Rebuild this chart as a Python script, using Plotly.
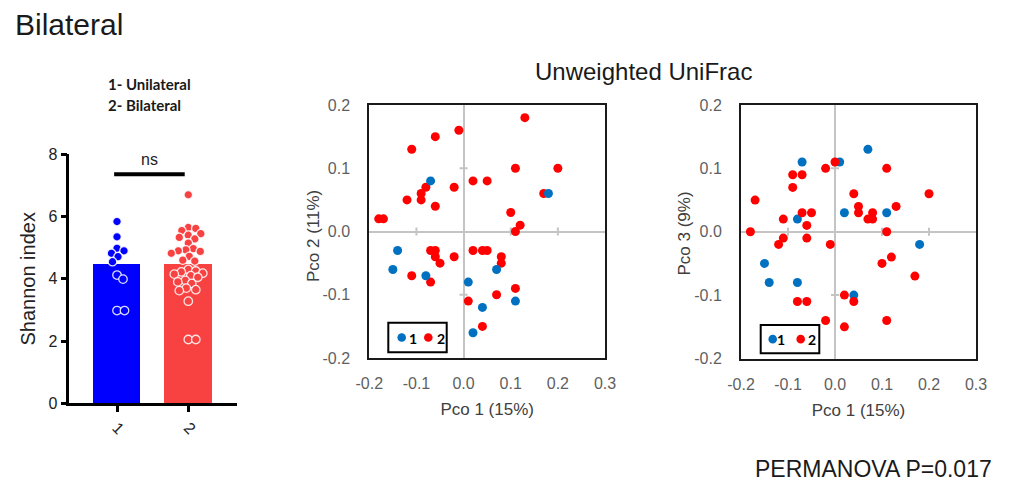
import numpy as np
import plotly.graph_objects as go

W, H = 1009, 484

# ---------------- data ----------------
groups = ["1", "2"]
group_names = ["1- Unilateral", "2- Bilateral"]
uni_shannon = [5.84, 5.35, 4.98, 4.90, 4.82, 4.71, 4.55, 4.12, 3.99, 2.98, 2.98]
bi_shannon = [6.70, 5.65, 5.62, 5.55, 5.45, 5.40, 5.33, 5.28, 5.15, 4.97, 4.93,
              4.90, 4.88, 4.82, 4.72, 4.60, 4.57,
              4.30, 4.25, 4.22, 4.18, 4.15, 4.10, 4.05, 3.95, 3.90, 3.85,
              3.70, 3.65, 3.62, 3.28, 2.05, 2.05]

s1_uni_x = [-0.07, 0.18, -0.14, -0.15, -0.08, 0.07, 0.01, 0.11, 0.04, 0.02]
s1_uni_y = [0.08, 0.06, -0.03, -0.06, -0.07, -0.06, -0.08, -0.11, -0.12, -0.16]
s1_bi_x = [0.13, -0.01, -0.06, -0.11, 0.11, 0.20, 0.02, 0.05, -0.08, -0.02, -0.09, -0.09,
           -0.12, -0.06, -0.18, -0.17, 0.17, 0.10, 0.12, 0.11,
           -0.07, -0.06, -0.06, -0.05, -0.02, 0.02, 0.04, 0.05, 0.08, 0.08, -0.11, -0.07,
           0.07, 0.11, 0.01, 0.04]
s1_bi_y = [0.18, 0.16, 0.15, 0.13, 0.10, 0.10, 0.08, 0.08, 0.07, 0.07, 0.06, 0.05,
           0.05, 0.04, 0.02, 0.02, 0.06, 0.03, 0.01, 0.00,
           -0.03, -0.03, -0.04, -0.05, -0.04, -0.03, -0.03, -0.03, -0.04, -0.05, -0.07, -0.08,
           -0.10, -0.09, -0.11, -0.15]

s2_uni_x = [0.07, -0.07, 0.01, -0.08, 0.02, 0.11, 0.18, -0.15, -0.14, -0.08, 0.04]
s2_uni_y = [0.13, 0.11, 0.11, 0.02, 0.03, 0.03, -0.02, -0.05, -0.08, -0.08, -0.10]
s2_bi_x = [0.00, -0.02, 0.11, -0.09, -0.07, -0.09, -0.17, 0.04, 0.20, 0.05, 0.05, 0.13,
           -0.07, -0.05, -0.11, -0.06, 0.08, 0.07, 0.08, 0.11, -0.18, -0.11, -0.06, -0.12,
           -0.01, 0.10, 0.12, 0.17, 0.02, 0.04, -0.08, -0.06, -0.02, 0.02, 0.11]
s2_bi_y = [0.11, 0.10, 0.10, 0.09, 0.09, 0.07, 0.05, 0.06, 0.06, 0.04, 0.03, 0.04,
           0.03, 0.03, 0.02, 0.01, 0.03, 0.02, 0.02, 0.00, 0.00, -0.01, -0.01, -0.02,
           -0.02, -0.05, -0.04, -0.07, -0.10, -0.11, -0.11, -0.11, -0.14, -0.15, -0.14]

pco_ticks = [-0.2, -0.1, 0.0, 0.1, 0.2, 0.3]
shannon_ticks = [0, 2, 4, 6, 8]
pco_titles = ["Pco 1 (15%)", "Pco 2 (11%)", "Pco 3 (9%)"]

# ---------------- styling ----------------
FONT = "Liberation Sans, Arial, sans-serif"
BAR_BLUE = "#0000FF"
BAR_RED = "#F84242"
PT_BLUE = "#0070C0"
PT_RED = "#FF0000"


def px_x(p):
    return p / W


def px_y(p):
    return 1 - p / H


# layout boxes in pixels (left, top, right, bottom)
BAR_BOX = (69.3, 154.3, 236.7, 403.3)
S1_BOX = (369.3, 105, 605, 358)
S2_BOX = (741, 105, 976, 358.5)

bar_xrange = [-0.669, 1.679]
bar_yrange = [0, 8]

# ---------------- swarm offsets (computed) ----------------
ppu_x = (BAR_BOX[2] - BAR_BOX[0]) / (bar_xrange[1] - bar_xrange[0])
ppu_y = (BAR_BOX[3] - BAR_BOX[1]) / (bar_yrange[1] - bar_yrange[0])


def swarm(vals, d=7.2, maxoff=19.0, step=0.5):
    vals = np.asarray(vals, float)
    order = np.argsort(-vals)
    placed = []
    offs = np.zeros(len(vals))
    cands = sorted(np.arange(-maxoff, maxoff + 1e-9, step), key=lambda o: (abs(o), -o))
    for i in order:
        y = vals[i] * ppu_y
        best, bestd = 0.0, -1
        for o in cands:
            md = min([np.hypot(o - po, y - py) for po, py in placed] or [1e9])
            if md >= d:
                best = o
                bestd = md
                break
            if md > bestd:
                best, bestd = o, md
        offs[i] = best
        placed.append((best, y))
    return offs / ppu_x


fig = go.Figure()

means = [float(np.mean(uni_shannon)), float(np.mean(bi_shannon))]
fig.add_trace(go.Bar(x=[0, 1], y=means, width=0.665, marker=dict(color=[BAR_BLUE, BAR_RED], line=dict(width=0)),
                     xaxis="x", yaxis="y", showlegend=False))
for gi, (vals, col) in enumerate([(uni_shannon, BAR_BLUE), (bi_shannon, BAR_RED)]):
    xo = swarm(vals)
    fig.add_trace(go.Scatter(x=gi + xo, y=vals, mode="markers", xaxis="x", yaxis="y", showlegend=False,
                             marker=dict(size=8.5, color=col, line=dict(color="rgba(255,255,255,0.85)", width=1.3))))

# scatter 1 (red first, blue on top)
fig.add_trace(go.Scatter(x=s1_bi_x, y=s1_bi_y, mode="markers", xaxis="x2", yaxis="y2", showlegend=False,
                         marker=dict(size=9, color=PT_RED)))
fig.add_trace(go.Scatter(x=s1_uni_x, y=s1_uni_y, mode="markers", xaxis="x2", yaxis="y2", showlegend=False,
                         marker=dict(size=9, color=PT_BLUE)))
# scatter 2 (blue first, red on top)
fig.add_trace(go.Scatter(x=s2_uni_x, y=s2_uni_y, mode="markers", xaxis="x3", yaxis="y3", showlegend=False,
                         marker=dict(size=9, color=PT_BLUE)))
fig.add_trace(go.Scatter(x=s2_bi_x, y=s2_bi_y, mode="markers", xaxis="x3", yaxis="y3", showlegend=False,
                         marker=dict(size=9, color=PT_RED)))


def dom(box):
    l, t, r, b = box
    return [px_x(l), px_x(r)], [px_y(b), px_y(t)]


bx, by = dom(BAR_BOX)
s1x, s1y = dom(S1_BOX)
s2x, s2y = dom(S2_BOX)

pco_axis = dict(range=[-0.2, 0.3], tickvals=pco_ticks, ticktext=[f"{v:.1f}" for v in pco_ticks],
                showline=True, mirror=True, linecolor="#1a1a1a", linewidth=2,
                zeroline=True, zerolinecolor="#c4c4c4", zerolinewidth=2, showgrid=False,
                ticks="outside", ticklen=10, tickcolor="rgba(0,0,0,0)", automargin=False,
                tickfont=dict(family=FONT, size=16, color="#5f5f5f"))
pco_yaxis = dict(pco_axis)
pco_yaxis.update(range=[-0.2, 0.2], tickvals=pco_ticks[:-1], ticktext=[f"{v:.1f}" for v in pco_ticks[:-1]],
                 ticklen=14)

fig.update_layout(
    width=W, height=H, margin=dict(l=0, r=0, t=0, b=0, pad=0, autoexpand=False),
    paper_bgcolor="white", plot_bgcolor="white",
    font=dict(family=FONT, color="#222222"),
    showlegend=False,
    bargap=0,
    xaxis=dict(domain=bx, range=bar_xrange, tickvals=[0, 1], ticktext=groups, tickangle=45,
               showline=True, linecolor="black", linewidth=2.5, ticks="outside", ticklen=6, tickwidth=2.5,
               tickcolor="black", showgrid=False, zeroline=False, automargin=False,
               tickfont=dict(family=FONT, size=16, color="#222222")),
    yaxis=dict(domain=by, range=bar_yrange, tickvals=shannon_ticks, showline=True, linecolor="black",
               linewidth=2.5, ticks="outside", ticklen=6, tickwidth=2.5, tickcolor="black",
               showgrid=False, zeroline=False, automargin=False,
               tickfont=dict(family=FONT, size=16, color="#222222"),
               title=dict(text="Shannon index", font=dict(family=FONT, size=20, color="#222222"), standoff=8)),
    xaxis2=dict(pco_axis, domain=s1x, anchor="y2",
                title=dict(text=pco_titles[0], font=dict(family=FONT, size=17, color="#404040"), standoff=12)),
    yaxis2=dict(pco_yaxis, domain=s1y, anchor="x2"),
    xaxis3=dict(pco_axis, domain=s2x, anchor="y3",
                title=dict(text=pco_titles[0], font=dict(family=FONT, size=17, color="#404040"), standoff=12)),
    yaxis3=dict(pco_yaxis, domain=s2y, anchor="x3"),
)

shapes = []
annotations = []

# y-axis titles of the PCoA panels
for (xc, yc), txt in [((314, 236), pco_titles[1]), ((683.5, 234), pco_titles[2])]:
    annotations.append(dict(text=txt, xref="paper", yref="paper", x=px_x(xc), y=px_y(yc), textangle=-90,
                            xanchor="center", yanchor="middle", showarrow=False,
                            font=dict(family=FONT, size=17, color="#404040")))

# significance bracket
shapes.append(dict(type="line", xref="x", yref="y", x0=-0.04, x1=0.95, y0=7.36, y1=7.36,
                   line=dict(color="black", width=4)))
annotations.append(dict(text="ns", xref="x", yref="y", x=0.45, y=7.82, showarrow=False,
                        xanchor="center", yanchor="middle",
                        font=dict(family=FONT, size=16, color="#222222")))

# small gray cross ticks on zero lines
for xa, ya in [("x2", "y2"), ("x3", "y3")]:
    for v in pco_ticks:
        if v not in (0.0, -0.2, 0.3):
            shapes.append(dict(type="line", xref=xa, yref=ya, x0=v, x1=v, y0=-0.0065, y1=0.0065,
                               line=dict(color="#c4c4c4", width=2), layer="below"))
    for v in [-0.1, 0.1]:
        shapes.append(dict(type="line", xref=xa, yref=ya, x0=-0.0085, x1=0.0085, y0=v, y1=v,
                           line=dict(color="#c4c4c4", width=2), layer="below"))

# manual legends for the PCoA panels
for (l, t, r, b), dots, labels in [
    ((388.3, 322.7, 446.7, 352.3), (401.7, 428.3), (412.7, 441.2)),
    ((760.7, 325.0, 819.3, 353.3), (772.7, 800.7), (781.2, 811.7)),
]:
    shapes.append(dict(type="rect", xref="paper", yref="paper", x0=px_x(l), x1=px_x(r), y0=px_y(b), y1=px_y(t),
                       line=dict(color="black", width=2), fillcolor="white", layer="above"))
    cy = (t + b) / 2
    for cx, col in zip(dots, [PT_BLUE, PT_RED]):
        shapes.append(dict(type="circle", xref="paper", yref="paper", x0=px_x(cx - 4.3), x1=px_x(cx + 4.3),
                           y0=px_y(cy + 4.3), y1=px_y(cy - 4.3), fillcolor=col, line=dict(width=0),
                           layer="above"))
    for tx, txt in zip(labels, groups):
        annotations.append(dict(text=f"<b>{txt}</b>", xref="paper", yref="paper", x=px_x(tx), y=px_y(cy + 0.5),
                                xanchor="center", yanchor="middle", showarrow=False,
                                font=dict(family="Lato, sans-serif", size=14, color="black")))

# titles and notes
annotations.append(dict(text="Bilateral", xref="paper", yref="paper", x=px_x(13), y=px_y(24), xanchor="left",
                        yanchor="middle", showarrow=False, font=dict(family=FONT, size=30, color="#1a1a1a")))
for i, txt in enumerate(group_names):
    annotations.append(dict(text=f"<b>{txt}</b>", xref="paper", yref="paper", x=px_x(106), y=px_y(84 + 21 * i),
                            xanchor="left", yanchor="middle", showarrow=False,
                            font=dict(family="Lato, sans-serif", size=15, color="#1a1a1a")))
annotations.append(dict(text="Unweighted UniFrac", xref="paper", yref="paper", x=px_x(643), y=px_y(72),
                        xanchor="center", yanchor="middle", showarrow=False,
                        font=dict(family=FONT, size=24, color="#1a1a1a")))
annotations.append(dict(text="PERMANOVA P=0.017", xref="paper", yref="paper", x=px_x(994), y=px_y(469),
                        xanchor="right", yanchor="middle", showarrow=False,
                        font=dict(family=FONT, size=23, color="#1a1a1a")))

fig.update_layout(shapes=shapes, annotations=annotations)
fig.write_html("out.html", config={"displayModeBar": False},
               post_script="document.body.style.margin='0';document.body.style.overflow='hidden';")
